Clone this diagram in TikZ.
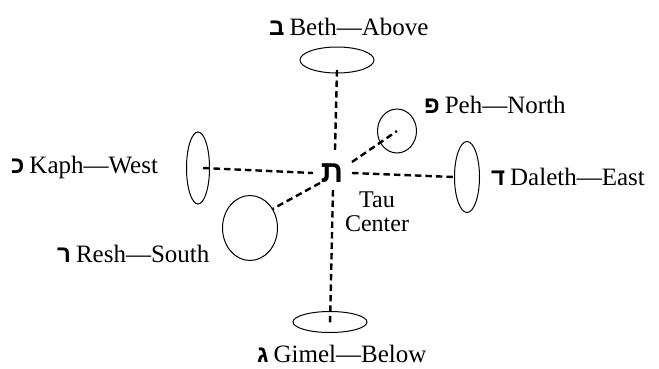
\documentclass[tikz,border=0pt]{standalone}
\usepackage{fontspec}
\setmainfont{Liberation Serif}
\newfontfamily\heb[Script=Hebrew]{Liberation Sans}
\usetikzlibrary{shapes.geometric}
\begin{document}
\begin{tikzpicture}[x=1pt,y=-1pt,
  conn/.style={line width=2.4pt, dash pattern=on 6.5pt off 4pt},
  ring/.style={draw, ellipse, line width=1pt, inner sep=0pt},
  lbl/.style={anchor=base west, inner sep=0pt, font=\fontsize{25}{28}\selectfont}]
\useasboundingbox (0,0) rectangle (659,368);
\newcommand{\hl}[1]{{\heb\bfseries\fontsize{24}{28}\selectfont #1}\hspace{5pt}}
% rings
\node[ring, minimum width=74pt, minimum height=26pt] (beth) at (337,60) {};
\node[ring, minimum width=74pt, minimum height=21pt] (gimel) at (330,322) {};
\node[ring, minimum width=23pt, minimum height=72pt] (kaph) at (198,168) {};
\node[ring, minimum width=25pt, minimum height=71pt] (daleth) at (467,177) {};
\node[ring, minimum width=39pt, minimum height=44pt] (peh) at (397,131) {};
\node[ring, minimum width=55pt, minimum height=65pt] (resh) at (250,228) {};
% center
\node[inner sep=0pt, font=\heb\bfseries\fontsize{31}{32}\selectfont] (tau) at (332,173) {ת};
\node[anchor=base, inner sep=0pt, align=center, font=\fontsize{24}{24}\selectfont] (taul) at (377,231) {Tau\\Center};
\coordinate (tN) at (335,150);
\coordinate (tS) at (333,190);
\coordinate (tW) at (313,173);
\coordinate (tE) at (352,173);
\coordinate (tNE) at (352,162);
\coordinate (tSW) at (320,183);
% connectors
\draw[conn] (beth.center) ++(0,10) -- (tN);
\draw[conn] (tS) -- ([yshift=-2pt]gimel.center);
\draw[conn] ([xshift=5pt]kaph.center) -- (tW);
\draw[conn] (tE) -- (daleth.west);
\draw[conn] (tNE) -- (peh.center);
\draw[conn] (tSW) -- (resh.40);
% labels
\node[lbl] (bethl) at (269,35) {\hl{ב}Beth—Above};
\node[lbl] (pehl) at (424,113) {\hl{פ}Peh—North};
\node[lbl] (kaphl) at (11,173) {\hl{כ}Kaph—West};
\node[lbl] (dalethl) at (491,185) {\hl{ד}Daleth—East};
\node[lbl] (reshl) at (57,262) {\hl{ר}Resh—South};
\node[lbl] (gimell) at (257,362) {\hl{ג}Gimel—Below};
\end{tikzpicture}
\end{document}
